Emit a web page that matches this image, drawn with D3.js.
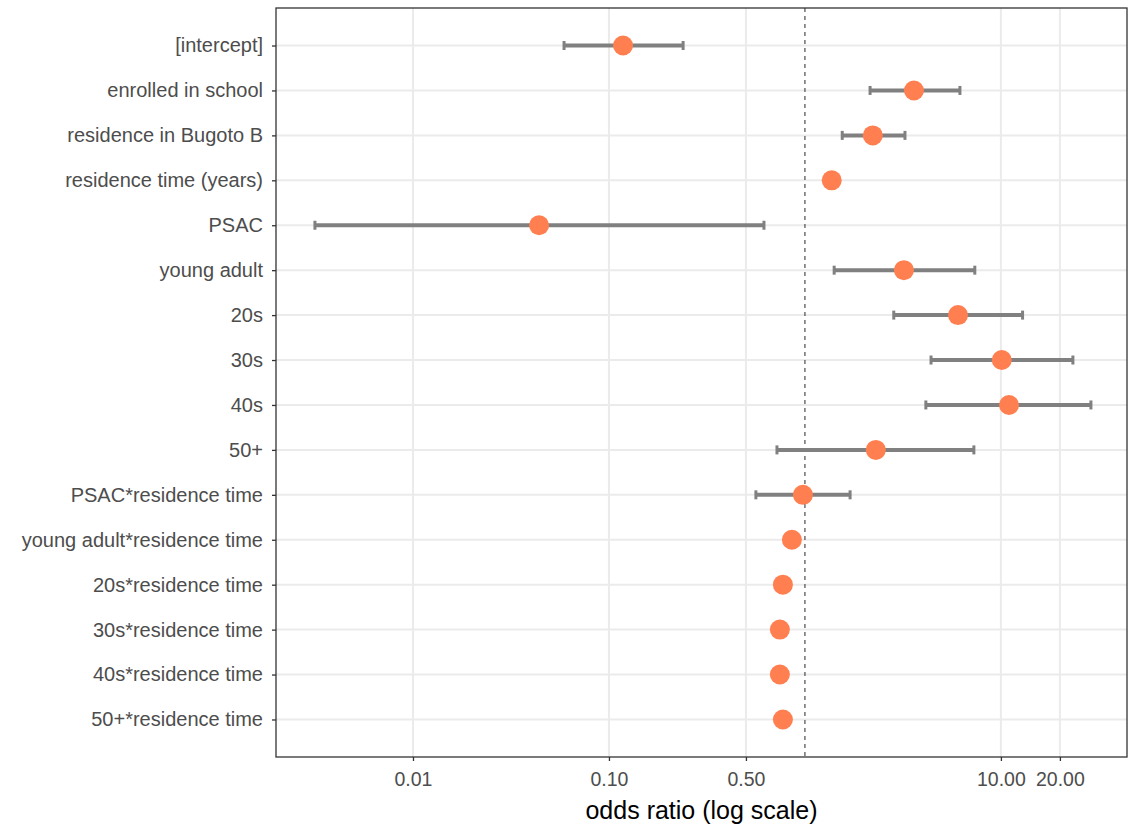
<!DOCTYPE html>
<html>
<head>
    <script src="https://cdnjs.cloudflare.com/ajax/libs/d3/7.8.5/d3.min.js"></script>
    <style>
        body { margin: 0; background: #fff; }
        text { font-family: 'Liberation Sans', Arial, sans-serif; }
    </style>
</head>
<body>
<script>
    // terms, top to bottom
    const terms = ['[intercept]', 'enrolled in school', 'residence in Bugoto B', 'residence time (years)',
        'PSAC', 'young adult', '20s', '30s', '40s', '50+', 'PSAC*residence time',
        'young adult*residence time', '20s*residence time', '30s*residence time',
        '40s*residence time', '50+*residence time']
    const oddsRatio = [0.118, 3.6, 2.22, 1.37, 0.044, 3.2, 6.04, 10.1, 11.0, 2.30, 0.977,
        0.858, 0.772, 0.745, 0.745, 0.772]
    const ciLow = [0.059, 2.15, 1.55, 1.33, 0.00316, 1.41, 2.84, 4.4, 4.14, 0.72, 0.562,
        0.84, 0.76, 0.735, 0.735, 0.76]
    const ciHigh = [0.239, 6.18, 3.24, 1.41, 0.618, 7.36, 12.9, 23.3, 28.8, 7.28, 1.70,
        0.875, 0.785, 0.755, 0.755, 0.785]
    const xTicks = [0.01, 0.1, 0.5, 10, 20]

    const w = 1128, h = 825
    const mLeft = 276, mRight = 1127, mTop = 8, mBottom = 757

    const svg = d3.select('body').append('svg')
        .attr('width', w).attr('height', h)

    const x = d3.scaleLog()
        .domain([0.002, 44])
        .range([mLeft, mRight])

    const y = d3.scalePoint()
        .domain(terms)
        .range([mTop, mBottom])
        .padding(0.835)

    // grid
    svg.append('g').selectAll('line')
        .data(xTicks)
        .enter().append('line')
        .attr('x1', d => x(d)).attr('x2', d => x(d))
        .attr('y1', mTop).attr('y2', mBottom)
        .attr('stroke', '#ebebeb').attr('stroke-width', 2)

    svg.append('g').selectAll('line')
        .data(terms)
        .enter().append('line')
        .attr('x1', mLeft).attr('x2', mRight)
        .attr('y1', d => y(d)).attr('y2', d => y(d))
        .attr('stroke', '#ebebeb').attr('stroke-width', 2)

    // reference line at 1
    svg.append('line')
        .attr('x1', x(1)).attr('x2', x(1))
        .attr('y1', mTop).attr('y2', mBottom)
        .attr('stroke', '#4d4d4d').attr('stroke-width', 1.2)
        .attr('stroke-dasharray', '4,4')

    const rows = terms.map((t, i) => ({ t: t, or: oddsRatio[i], lo: ciLow[i], hi: ciHigh[i] }))

    // error bars
    const eb = svg.append('g').selectAll('g')
        .data(rows)
        .enter().append('g')
        .attr('stroke', '#808080')

    eb.append('line')
        .attr('x1', d => x(d.lo)).attr('x2', d => x(d.hi))
        .attr('y1', d => y(d.t)).attr('y2', d => y(d.t))
        .attr('stroke-width', 4)
    eb.append('line')
        .attr('x1', d => x(d.lo)).attr('x2', d => x(d.lo))
        .attr('y1', d => y(d.t) - 4.5).attr('y2', d => y(d.t) + 4.5)
        .attr('stroke-width', 3)
    eb.append('line')
        .attr('x1', d => x(d.hi)).attr('x2', d => x(d.hi))
        .attr('y1', d => y(d.t) - 4.5).attr('y2', d => y(d.t) + 4.5)
        .attr('stroke-width', 3)

    // points
    svg.append('g').selectAll('circle')
        .data(rows)
        .enter().append('circle')
        .attr('cx', d => x(d.or))
        .attr('cy', d => y(d.t))
        .attr('r', 10)
        .attr('fill', '#ff7f50')

    // panel border
    svg.append('rect')
        .attr('x', mLeft).attr('y', mTop)
        .attr('width', mRight - mLeft).attr('height', mBottom - mTop)
        .attr('fill', 'none').attr('stroke', '#333333').attr('stroke-width', 1.3)

    // axes
    const xAxis = svg.append('g')
        .attr('transform', 'translate(0,' + mBottom + ')')
        .call(d3.axisBottom(x).tickValues(xTicks).tickSize(4).tickPadding(11)
            .tickFormat(d3.format('.2f')))
    const yAxis = svg.append('g')
        .attr('transform', 'translate(' + mLeft + ',0)')
        .call(d3.axisLeft(y).tickSize(4).tickPadding(9))

    ;[xAxis, yAxis].forEach(a => {
        a.select('.domain').remove()
        a.selectAll('.tick line').attr('stroke', '#333333').attr('stroke-width', 1.3)
        a.selectAll('.tick text').attr('fill', '#4d4d4d')
            .style('font-family', "'Liberation Sans', Arial, sans-serif")
    })
    xAxis.selectAll('.tick text').style('font-size', '19.5px')
    yAxis.selectAll('.tick text').style('font-size', '20px')

    svg.append('text')
        .attr('x', (mLeft + mRight) / 2)
        .attr('y', 819)
        .attr('text-anchor', 'middle')
        .style('font-size', '25px')
        .attr('fill', '#000')
        .text('odds ratio (log scale)')
</script>
</body>
</html>
